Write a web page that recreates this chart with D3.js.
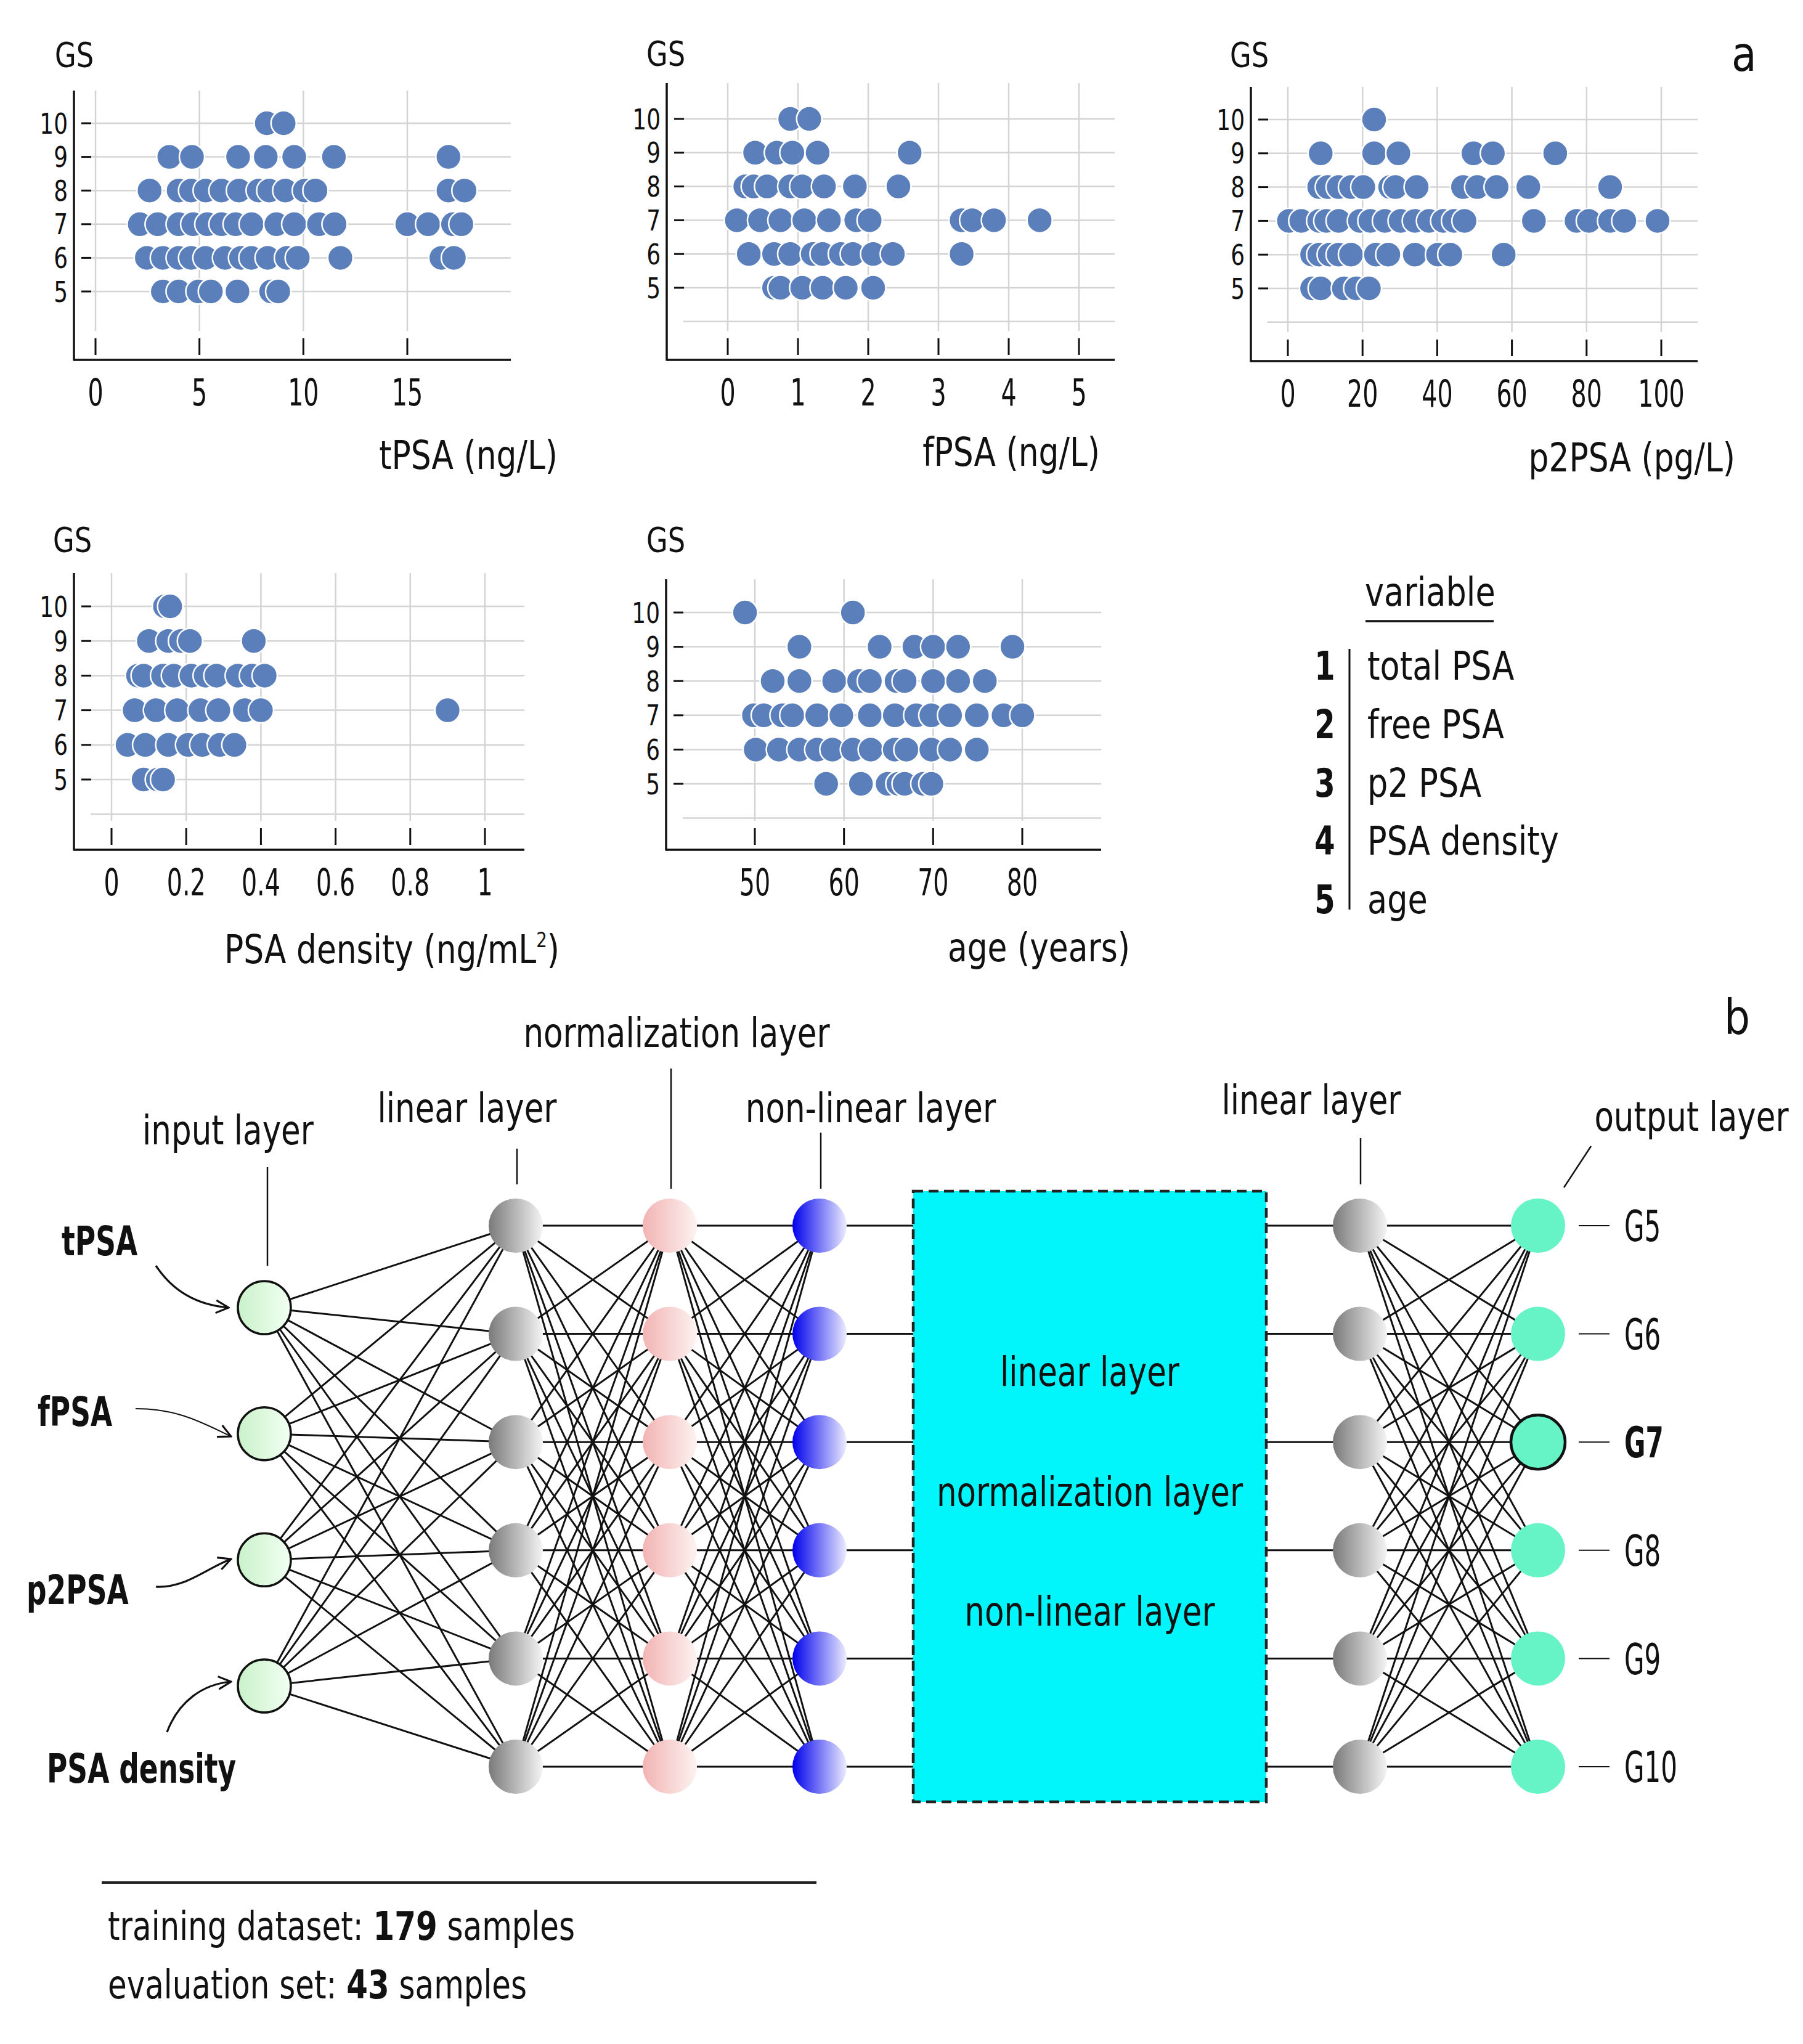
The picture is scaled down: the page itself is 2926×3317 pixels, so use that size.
<!DOCTYPE html>
<html>
	<head>
		<meta charset="utf-8"/>
		<script type="text/javascript" src="https://cdn.jsdelivr.net/npm/d3@7/dist/d3.min.js"></script>
		<style>
			body {
				margin:0;
				background:#fff;
			}
			text {
				font-family:"DejaVu Sans", sans-serif;
				fill:#111;
			}
		</style>
	</head>
	<body>
		<script>
			// ---- data (GS 5 .. 10, one list per grade) ----
			var gsLevels = [5, 6, 7, 8, 9, 10];

			var tpsaValues = [
				[3.24, 4.0, 4.95, 5.55, 6.83, 8.45, 8.79],
				[2.47, 3.24, 4.0, 4.6, 5.29, 6.23, 7.0, 7.5, 8.28, 9.21, 9.73, 11.78, 16.64, 17.24],
				[2.13, 2.99, 4.0, 4.7, 5.38, 6.06, 6.74, 7.51, 8.7, 9.56, 10.75, 11.5, 15.0, 16.0, 17.2, 17.6],
				[2.6, 4.0, 4.6, 5.3, 6.06, 6.9, 7.85, 8.36, 9.13, 10.07, 10.58, 16.98, 17.75],
				[3.55, 4.64, 6.86, 8.19, 9.56, 11.47, 16.98],
				[8.24, 9.05]
			];
			var fpsaValues = [
				[0.66, 0.75, 1.06, 1.35, 1.68, 2.07],
				[0.30, 0.66, 0.89, 1.21, 1.35, 1.61, 1.78, 2.07, 2.35, 3.33],
				[0.13, 0.46, 0.75, 1.09, 1.44, 1.83, 2.02, 3.33, 3.48, 3.79, 4.44],
				[0.25, 0.37, 0.56, 0.89, 1.06, 1.37, 1.81, 2.43],
				[0.39, 0.70, 0.92, 1.28, 2.59],
				[0.89, 1.16]
			];
			var p2psaValues = [
				[6.5, 8.8, 15.0, 18.3, 21.7],
				[6.5, 8.4, 11.2, 13.6, 16.9, 23.6, 26.9, 34.0, 40.2, 43.5, 57.8],
				[0.3, 3.6, 8.4, 10.3, 13.6, 19.3, 22.1, 26.0, 30.2, 34.0, 37.8, 41.6, 44.5, 47.3, 65.9, 77.3, 80.6, 86.3, 90.1, 99.0],
				[8.4, 10.7, 13.6, 16.9, 20.2, 27.4, 28.8, 34.5, 46.9, 50.7, 55.9, 64.4, 86.3],
				[8.8, 23.1, 29.6, 49.7, 54.9, 71.6],
				[23.1]
			];
			var densityValues = [
				[0.086, 0.124, 0.138],
				[0.043, 0.09, 0.152, 0.205, 0.243, 0.29, 0.329],
				[0.062, 0.119, 0.176, 0.238, 0.286, 0.357, 0.40, 0.9],
				[0.071, 0.086, 0.138, 0.167, 0.214, 0.252, 0.281, 0.338, 0.376, 0.41],
				[0.10, 0.152, 0.186, 0.21, 0.381],
				[0.143, 0.157]
			];
			var ageValues = [
				[58.0, 61.9, 64.9, 66.1, 66.8, 68.9, 69.8],
				[50.1, 52.7, 55.0, 57.0, 58.7, 61.0, 63.0, 65.7, 67.0, 69.8, 71.9, 74.9],
				[49.9, 51.0, 53.1, 54.2, 57.0, 59.7, 62.9, 65.7, 68.1, 69.8, 71.9, 74.9, 77.9, 80.0],
				[52.0, 55.0, 58.9, 61.7, 62.9, 65.9, 66.8, 70.0, 72.8, 75.8],
				[55.0, 64.0, 67.9, 70.0, 72.8, 78.9],
				[48.9, 61.0]
			];

			var tpsaTicks = [0, 5, 10, 15];
			var fpsaTicks = [0, 1, 2, 3, 4, 5];
			var p2psaTicks = [0, 20, 40, 60, 80, 100];
			var densityTicks = [0, 0.2, 0.4, 0.6, 0.8, 1];
			var ageTicks = [50, 60, 70, 80];

			var legendNumbers = ["1", "2", "3", "4", "5"];
			var legendNames = ["total PSA", "free PSA", "p2 PSA", "PSA density", "age"];

			var inputNames = ["tPSA", "fPSA", "p2PSA", "PSA density"];
			var outputNames = ["G5", "G6", "G7", "G8", "G9", "G10"];
			var boxLines = ["linear layer", "normalization layer", "non-linear layer"];
			var hiddenUnits = d3.range(6);

			var dot_color = "#5b7fbb";

			var svg = d3.select("body").append("svg")
				.attr("width", 2926)
				.attr("height", 3317);

			// narrow text: the figure uses a condensed DIN-like face
			function tr(x, y, sx) {
				return "translate(" + x + "," + y + ") scale(" + sx + ",1)";
			}
			function txt(parent, x, y, s, size, sx, anchor, weight) {
				return parent.append("text")
					.attr("transform", tr(x, y, sx))
					.attr("text-anchor", anchor || "start")
					.style("font-size", size + "px")
					.style("font-weight", weight || "normal")
					.text(s);
			}

			// ---- part a: scatter panels ----
			var panels = [
				{data:tpsaValues, ticks:tpsaTicks, fmt:String, tx:[155, 661], left:120, right:829, top:147, bottom:584, y5:473, y10:200, grid4:false,
				 label:"tPSA (ng/L)", lx:905, ly:761, gx:89, gy:108},
				{data:fpsaValues, ticks:fpsaTicks, fmt:String, tx:[1181, 1751], left:1082, right:1809, top:135, bottom:584, y5:467, y10:193, grid4:true,
				 label:"fPSA (ng/L)", lx:1785, ly:756, gx:1049, gy:106},
				{data:p2psaValues, ticks:p2psaTicks, fmt:String, tx:[2090, 2696], left:2030, right:2755, top:141, bottom:586, y5:468, y10:194, grid4:true,
				 label:"p2PSA (pg/L)", lx:2816, ly:765, gx:1996, gy:108},
				{data:densityValues, ticks:densityTicks, fmt:function(d){ return d === 0 || d === 1 ? String(d) : d.toFixed(1); }, tx:[181, 787], left:120, right:851, top:930, bottom:1379, y5:1265, y10:984, grid4:true,
				 label:"PSA density (ng/mL", sup:"2", lx:908, ly:1563, gx:86, gy:895},
				{data:ageValues, ticks:ageTicks, fmt:String, tx:[1225, 1659], left:1081, right:1787, top:940, bottom:1379, y5:1272, y10:994, grid4:true,
				 label:"age (years)", lx:1834, ly:1560, gx:1049, gy:895}
			];

			panels.forEach(drawPanel);

			function drawPanel(p) {
				var g = svg.append("g");
				var x = d3.scaleLinear()
					.domain([p.ticks[0], p.ticks[p.ticks.length - 1]])
					.range(p.tx);
				var y = d3.scaleLinear().domain([5, 10]).range([p.y5, p.y10]);
				var gridLevels = p.grid4 ? [4].concat(gsLevels) : gsLevels;

				// grid
				g.selectAll(".vgrid").data(p.ticks).enter().append("line")
					.attr("x1", d => x(d)).attr("x2", d => x(d))
					.attr("y1", p.top).attr("y2", p.bottom - 47)
					.attr("stroke", "#d4d4d4").attr("stroke-width", 2.5);
				g.selectAll(".hgrid").data(gridLevels).enter().append("line")
					.attr("x1", p.left + 27).attr("x2", p.right)
					.attr("y1", d => y(d)).attr("y2", d => y(d))
					.attr("stroke", "#d4d4d4").attr("stroke-width", 2.5);

				// axes
				g.append("line")
					.attr("x1", p.left).attr("x2", p.left)
					.attr("y1", p.top).attr("y2", p.bottom + 1.5)
					.attr("stroke", "#111").attr("stroke-width", 3.5);
				g.append("line")
					.attr("x1", p.left).attr("x2", p.right)
					.attr("y1", p.bottom).attr("y2", p.bottom)
					.attr("stroke", "#111").attr("stroke-width", 3.5);

				// ticks
				g.selectAll(".ytick").data(gsLevels).enter().append("line")
					.attr("x1", p.left + 12).attr("x2", p.left + 28)
					.attr("y1", d => y(d)).attr("y2", d => y(d))
					.attr("stroke", "#111").attr("stroke-width", 3);
				g.selectAll(".ylab").data(gsLevels).enter().append("text")
					.attr("transform", d => tr(p.left - 10, y(d), 0.78))
					.attr("dy", "0.36em")
					.attr("text-anchor", "end")
					.style("font-size", "46px")
					.text(d => d);
				g.selectAll(".xtick").data(p.ticks).enter().append("line")
					.attr("x1", d => x(d)).attr("x2", d => x(d))
					.attr("y1", p.bottom - 35).attr("y2", p.bottom - 8)
					.attr("stroke", "#111").attr("stroke-width", 3);
				g.selectAll(".xlab").data(p.ticks).enter().append("text")
					.attr("transform", d => tr(x(d), p.bottom + 74, 0.66))
					.attr("text-anchor", "middle")
					.style("font-size", "60px")
					.text(p.fmt);

				// dots
				gsLevels.forEach(function(gs, i) {
					g.selectAll(".dot" + gs).data(p.data[i]).enter().append("circle")
						.attr("cx", d => x(d))
						.attr("cy", y(gs))
						.attr("r", 20.5)
						.attr("fill", dot_color)
						.attr("stroke", "#fff")
						.attr("stroke-width", 2.5);
				});

				// labels
				txt(g, p.gx, p.gy, "GS", 56, 0.8);
				var lab = txt(g, p.lx, p.ly, null, 64, 0.81, "end");
				lab.append("tspan").text(p.label);
				if (p.sup) {
					lab.append("tspan").attr("dy", -26).style("font-size", "34px").text(p.sup);
					lab.append("tspan").attr("dy", 26).text(")");
				}
			}

			txt(svg, 2810, 115, "a", 78, 0.85);

			// ---- legend ----
			var legendY = d3.scalePoint().domain(legendNumbers).range([1103, 1482]);
			txt(svg, 2215, 983, "variable", 64, 0.82);
			svg.append("line")
				.attr("x1", 2216).attr("x2", 2424).attr("y1", 1008).attr("y2", 1008)
				.attr("stroke", "#111").attr("stroke-width", 3.5);
			svg.append("line")
				.attr("x1", 2190).attr("x2", 2190).attr("y1", 1053).attr("y2", 1476)
				.attr("stroke", "#111").attr("stroke-width", 3);
			svg.selectAll(".legnum").data(legendNumbers).enter().append("text")
				.attr("transform", d => tr(2150, legendY(d), 0.75))
				.attr("text-anchor", "middle")
				.style("font-size", "64px").style("font-weight", "bold")
				.text(d => d);
			svg.selectAll(".legname").data(legendNames).enter().append("text")
				.attr("transform", (d, i) => tr(2219, legendY(legendNumbers[i]), 0.82))
				.style("font-size", "64px")
				.text(d => d);

			// ---- part b: network ----
			var defs = svg.append("defs");
			function addGradient(id, from, to) {
				var lg = defs.append("linearGradient").attr("id", id)
					.attr("x1", "0%").attr("x2", "100%").attr("y1", "0%").attr("y2", "0%");
				lg.append("stop").attr("offset", "0%").attr("stop-color", from);
				lg.append("stop").attr("offset", "100%").attr("stop-color", to);
			}
			addGradient("gInput", "#c9f2c9", "#f2fff2");
			addGradient("gGray", "#7a7a7a", "#f4f4f4");
			addGradient("gPink", "#f2b3b3", "#fdf3f1");
			addGradient("gBlue", "#0000ee", "#ececff");
			defs.append("marker").attr("id", "arrow")
				.attr("viewBox", "0 0 14 14").attr("refX", 13).attr("refY", 7)
				.attr("markerWidth", 24).attr("markerHeight", 24)
				.attr("markerUnits", "userSpaceOnUse")
				.attr("orient", "auto")
				.append("path").attr("d", "M1,1 L13,7 L1,13")
				.attr("fill", "none").attr("stroke", "#111").attr("stroke-width", 1.8);

			var colX = d3.scaleOrdinal()
				.domain(["input", "lin1", "norm", "nonlin", "boxL", "boxR", "lin2", "out"])
				.range([429, 837, 1087, 1330, 1482, 2055, 2207, 2496]);
			var rowY = d3.scalePoint().domain(hiddenUnits).range([1989, 2867]);
			var inY = d3.scalePoint().domain(d3.range(inputNames.length)).range([2122, 2736]);

			var net = svg.append("g");
			var edges = net.append("g").attr("stroke", "#111").attr("stroke-width", 3);

			function fullConnect(ax, ay, bx, by) {
				ay.forEach(function(a) {
					by.forEach(function(b) {
						edges.append("line").attr("x1", ax).attr("y1", a).attr("x2", bx).attr("y2", b);
					});
				});
			}
			var hy = hiddenUnits.map(d => rowY(d));
			var iy = d3.range(inputNames.length).map(d => inY(d));
			fullConnect(colX("input"), iy, colX("lin1"), hy);
			fullConnect(colX("lin1"), hy, colX("norm"), hy);
			fullConnect(colX("norm"), hy, colX("nonlin"), hy);
			fullConnect(colX("lin2"), hy, colX("out"), hy);
			hy.forEach(function(y) {
				edges.append("line").attr("x1", colX("nonlin")).attr("x2", colX("boxL")).attr("y1", y).attr("y2", y);
				edges.append("line").attr("x1", colX("boxR")).attr("x2", colX("lin2")).attr("y1", y).attr("y2", y);
			});

			// box
			net.append("rect")
				.attr("x", colX("boxL")).attr("y", 1933)
				.attr("width", colX("boxR") - colX("boxL")).attr("height", 2924 - 1933)
				.attr("fill", "#00f6fa")
				.attr("stroke", "#222").attr("stroke-width", 4.5)
				.attr("stroke-dasharray", "16,9");
			var boxY = d3.scalePoint().domain(boxLines).range([2249, 2638]);
			net.selectAll(".boxtext").data(boxLines).enter().append("text")
				.attr("transform", d => tr((colX("boxL") + colX("boxR")) / 2, boxY(d), 0.78))
				.attr("text-anchor", "middle")
				.style("font-size", "66px")
				.text(d => d);

			// nodes
			net.selectAll(".inode").data(iy).enter().append("circle")
				.attr("cx", colX("input")).attr("cy", d => d).attr("r", 43)
				.attr("fill", "url(#gInput)").attr("stroke", "#111").attr("stroke-width", 3.5);
			[["lin1", "url(#gGray)"], ["norm", "url(#gPink)"], ["nonlin", "url(#gBlue)"], ["lin2", "url(#gGray)"]].forEach(function(c) {
				net.selectAll(".n" + c[0]).data(hy).enter().append("circle")
					.attr("cx", colX(c[0])).attr("cy", d => d).attr("r", 44)
					.attr("fill", c[1]);
			});
			net.selectAll(".onode").data(outputNames).enter().append("circle")
				.attr("cx", colX("out")).attr("cy", (d, i) => hy[i]).attr("r", 44)
				.attr("fill", "#66f3c6")
				.attr("stroke", d => d === "G7" ? "#111" : "none")
				.attr("stroke-width", 4.5);

			// output labels
			net.selectAll(".odash").data(outputNames).enter().append("line")
				.attr("x1", 2562).attr("x2", 2612)
				.attr("y1", (d, i) => hy[i]).attr("y2", (d, i) => hy[i])
				.attr("stroke", "#111").attr("stroke-width", 2);
			net.selectAll(".olab").data(outputNames).enter().append("text")
				.attr("transform", (d, i) => tr(2636, hy[i], 0.6))
				.attr("dy", "0.36em")
				.style("font-size", "70px")
				.style("font-weight", d => d === "G7" ? "bold" : "normal")
				.text(d => d);

			// input labels and arrows
			var inputLabelPos = [[100, 2037], [61, 2314], [43, 2603], [76, 2893]];
			var arrowPaths = [
				"M253,2054 C280,2095 320,2118 371,2122",
				"M220,2286 C290,2286 330,2310 375,2331",
				"M253,2575 C300,2578 335,2545 375,2530",
				"M271,2811 C290,2760 330,2733 375,2729"
			];
			net.selectAll(".inlab").data(inputNames).enter().append("text")
				.attr("transform", (d, i) => tr(inputLabelPos[i][0], inputLabelPos[i][1], 0.69))
				.style("font-size", "66px").style("font-weight", "bold")
				.text(d => d);
			net.selectAll(".arrow").data(arrowPaths).enter().append("path")
				.attr("d", d => d)
				.attr("fill", "none").attr("stroke", "#111")
				.attr("stroke-width", (d, i) => i === 1 ? 2 : 3.2)
				.attr("marker-end", "url(#arrow)");

			// layer captions with leader lines
			var captions = [
				{t:"input layer", x:370, y:1857, lx1:434, ly1:1894, lx2:434, ly2:2054},
				{t:"linear layer", x:758, y:1821, lx1:839, ly1:1864, lx2:839, ly2:1922},
				{t:"normalization layer", x:1098, y:1699, lx1:1089, ly1:1734, lx2:1089, ly2:1929},
				{t:"non-linear layer", x:1413, y:1821, lx1:1332, ly1:1838, lx2:1332, ly2:1929},
				{t:"linear layer", x:2128, y:1808, lx1:2208, ly1:1847, lx2:2208, ly2:1922},
				{t:"output layer", x:2745, y:1835, lx1:2582, ly1:1860, lx2:2538, ly2:1927}
			];
			captions.forEach(function(c) {
				txt(net, c.x, c.y, c.t, 66, 0.78, "middle");
				net.append("line")
					.attr("x1", c.lx1).attr("y1", c.ly1).attr("x2", c.lx2).attr("y2", c.ly2)
					.attr("stroke", "#111").attr("stroke-width", 2.5);
			});
			txt(svg, 2798, 1678, "b", 78, 0.85);

			// ---- dataset note ----
			svg.append("line")
				.attr("x1", 165).attr("x2", 1325).attr("y1", 3055).attr("y2", 3055)
				.attr("stroke", "#222").attr("stroke-width", 4);
			var t1 = txt(svg, 175, 3148, null, 64, 0.78);
			t1.append("tspan").text("training dataset: ");
			t1.append("tspan").style("font-weight", "bold").text("179");
			t1.append("tspan").text(" samples");
			var t2 = txt(svg, 175, 3243, null, 64, 0.78);
			t2.append("tspan").text("evaluation set: ");
			t2.append("tspan").style("font-weight", "bold").text("43");
			t2.append("tspan").text(" samples");
		</script>
	</body>
</html>
